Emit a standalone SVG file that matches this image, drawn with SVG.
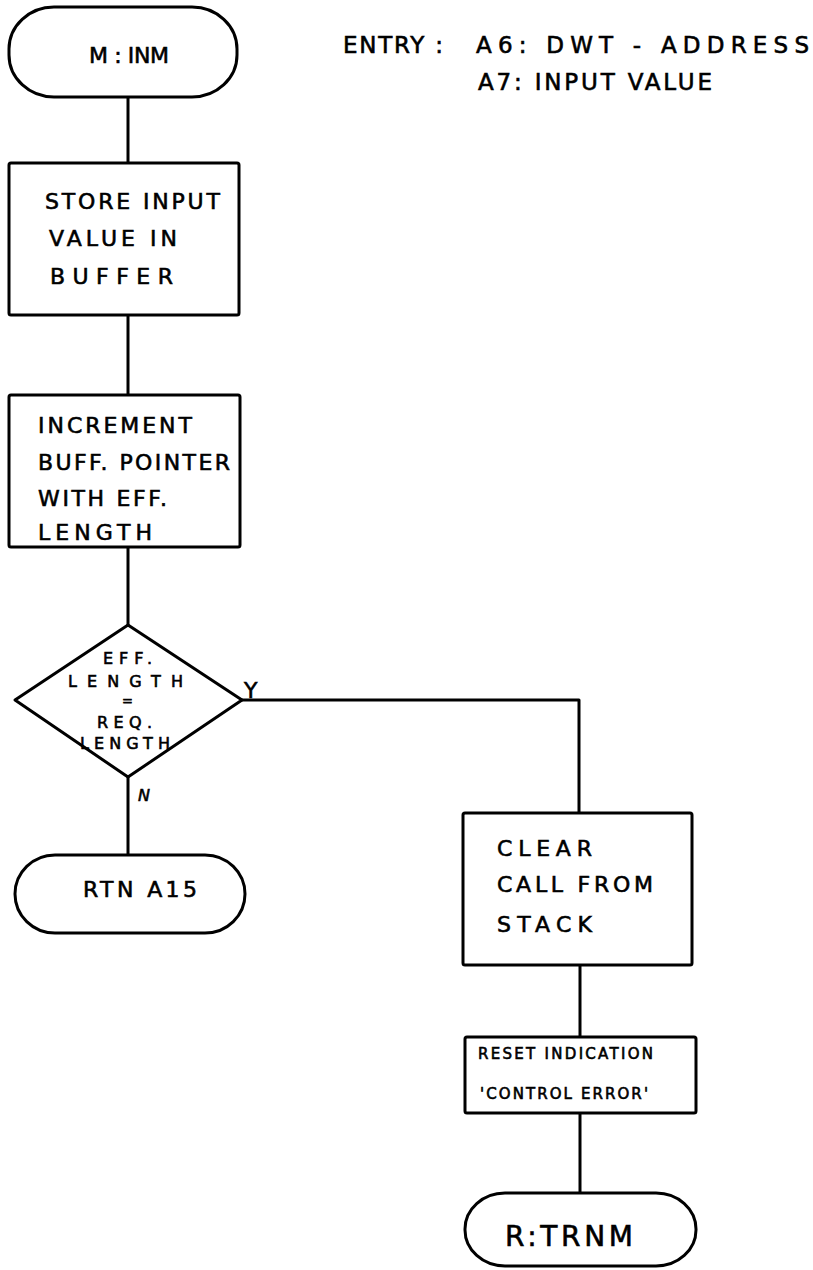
<svg xmlns="http://www.w3.org/2000/svg" width="813" height="1270" viewBox="0 0 813 1270">
<style>
.s{fill:#fff;stroke:#000;stroke-width:3;stroke-linejoin:round}
.c{fill:none;stroke:#000;stroke-width:3;stroke-linejoin:round}
text{font-family:"DejaVu Sans","Liberation Sans",Arial,sans-serif;fill:#000;stroke:#000;stroke-width:0.6;font-weight:normal}
.t22{font-size:22px}
.t23{font-size:23px}
.t16{font-size:16px}
.t13{font-size:13px}
.t15{font-size:15px}
.t28{font-size:28px}
</style>
<rect width="813" height="1270" fill="#fff"/>
<g id="connectors">
<path class="c" d="M128,97 L128,163"/>
<path class="c" d="M128,315 L128,395"/>
<path class="c" d="M128,547 L128,625"/>
<path class="c" d="M128,777 L128,855"/>
<path class="c" d="M242,700 L579,700 L579,813"/>
<path class="c" d="M580,965 L580,1037"/>
<path class="c" d="M580,1113 L580,1193"/>
<text class="t22" x="244" y="698" textLength="16">Y</text>
<text class="t16" x="138" y="801" font-style="italic" textLength="13">N</text>
</g>
<g id="start">
<rect class="s" x="9" y="7" width="228" height="90" rx="45" ry="42"/>
<text class="t22" x="89" y="63" textLength="80">M : INM</text>
</g>
<g id="entry-note">
<text class="t23" x="343" y="53" textLength="100">ENTRY :</text>
<text class="t23" x="476" y="53" textLength="333">A6: DWT - ADDRESS</text>
<text class="t23" x="478" y="90" textLength="234">A7: INPUT VALUE</text>
</g>
<g id="store">
<rect class="s" x="9" y="163" width="230" height="152" rx="2"/>
<text class="t22" x="45" y="209" textLength="175">STORE INPUT</text>
<text class="t22" x="49" y="246" textLength="128">VALUE IN</text>
<text class="t22" x="50" y="284" textLength="123">BUFFER</text>
</g>
<g id="increment">
<rect class="s" x="9" y="395" width="231" height="152" rx="2"/>
<text class="t22" x="38" y="433" textLength="154">INCREMENT</text>
<text class="t22" x="38" y="470" textLength="192">BUFF. POINTER</text>
<text class="t22" x="38" y="506" textLength="129">WITH EFF.</text>
<text class="t22" x="38" y="540" textLength="114">LENGTH</text>
</g>
<g id="decision">
<path class="s" d="M128,625 L242,700 L128,777 L15,700 Z"/>
<text class="t16" x="103" y="664" textLength="49">EFF.</text>
<text class="t16" x="68" y="687" textLength="115">LENGTH</text>
<text class="t13" x="122" y="705" textLength="11">=</text>
<text class="t16" x="97" y="728" textLength="55">REQ.</text>
<text class="t16" x="80" y="749" textLength="90">LENGTH</text>
</g>
<g id="rtn">
<rect class="s" x="15" y="855" width="230" height="78" rx="40" ry="39"/>
<text class="t22" x="83" y="897" textLength="114">RTN A15</text>
</g>
<g id="clear">
<rect class="s" x="463" y="813" width="229" height="152" rx="2"/>
<text class="t22" x="497" y="856" textLength="95">CLEAR</text>
<text class="t22" x="497" y="892" textLength="156">CALL FROM</text>
<text class="t22" x="497" y="932" textLength="95">STACK</text>
</g>
<g id="reset">
<rect class="s" x="465" y="1037" width="231" height="76" rx="2"/>
<text class="t15" x="478" y="1059" textLength="175">RESET INDICATION</text>
<text class="t15" x="480" y="1099" textLength="168">'CONTROL ERROR'</text>
</g>
<g id="end">
<rect class="s" x="465" y="1193" width="231" height="73" rx="40" ry="36"/>
<text class="t28" x="505" y="1246" textLength="128">R:TRNM</text>
</g>
</svg>
